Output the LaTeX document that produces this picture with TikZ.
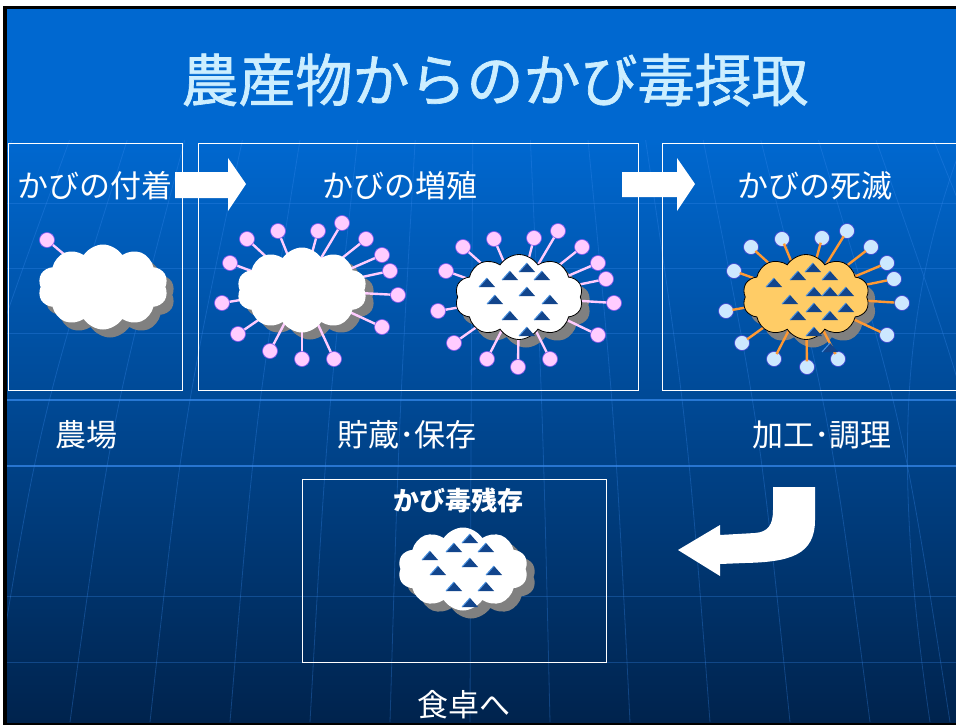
\documentclass[tikz,border=0pt]{standalone}
\usepackage{fontspec}
\newfontfamily\jp{Noto Sans CJK JP}
\newfontfamily\jptitle[FakeBold=1.2]{Noto Sans CJK JP}
\usetikzlibrary{shapes.symbols, calc}

\definecolor{slidetop}{HTML}{0068D0}
\definecolor{slidemid}{HTML}{004E9F}
\definecolor{slidebot}{HTML}{00234D}
\definecolor{gridblue}{HTML}{3A8CF0}
\definecolor{titlecyan}{HTML}{CCEEFF}
\definecolor{shadowgray}{HTML}{808080}
\definecolor{sporepink}{HTML}{FFCCFF}
\definecolor{sporerim}{HTML}{8855EE}
\definecolor{deadspore}{HTML}{CCE8FF}
\definecolor{deadrim}{HTML}{4040D0}
\definecolor{deadstalk}{HTML}{FF9933}
\definecolor{heated}{HTML}{FFCC66}
\definecolor{toxinblue}{HTML}{12458C}
\definecolor{toxinedge}{HTML}{4C92E0}

\tikzset{
  mold/.style={cloud, cloud puffs=10, cloud puff arc=115, cloud ignores aspect,
    minimum width=130, minimum height=85, inner sep=0pt, fill=white},
  moldshadow/.style={mold, fill=shadowgray},
  stagebox/.style={draw=white, line width=.8pt},
  gridline/.style={draw=gridblue, line width=.8pt, opacity=.3},
  pinkstalk/.style={draw=sporepink, line width=2.4pt},
  pinkspore/.style={fill=sporepink, draw=sporerim, line width=.6pt},
  deadstalkline/.style={draw=deadstalk, line width=2.4pt},
  deadsporedot/.style={fill=deadspore, draw=deadrim, line width=.6pt},
  stagelabel/.style={text=white, font=\jp\fontsize{31}{34}\selectfont, inner sep=0pt},
  toxin/.pic={
    \fill[toxinblue] (-8,4) -- (0,-5) -- (8,4) -- cycle;
    \draw[toxinedge, line width=1pt] (-8,4) -- (0,-5);
  },
}

\begin{document}
\begin{tikzpicture}[x=1pt, y=-1pt]
\useasboundingbox (0,0) rectangle (956,725);
\fill[white] (0,0) rectangle (956,725);
\fill[black] (3,6) rectangle (956,725);

% slide background
\begin{scope}
  \clip (7,9) rectangle (956,722);
  \fill[slidetop] (7,9) rectangle (956,140);
  \shade[top color=slidetop, middle color=slidemid, bottom color=slidebot]
    (7,140) rectangle (956,722);
  \foreach \h in {203,268,333,596,662}
    \draw[gridline] (7,\h) -- (956,\h);
  \foreach \h in {400,466}
    \draw[gridline, opacity=.7, line width=1.4pt] (7,\h) -- (956,\h);
  \foreach \b in {-170,-90,...,1130}
    \draw[gridline] ({480+(\b-480)*0.72},140) .. controls ({480+(\b-480)*0.9},420) .. (\b,722);
  \draw[gridline] (960,150) .. controls (905,300) and (890,450) .. (930,722);
\end{scope}

% title
\node[text=titlecyan, font=\jptitle\fontsize{57}{60}\selectfont, inner sep=0pt] (title) at (495,80)
  {農産物からのかび毒摂取};

% stage frames
\draw[stagebox] (8,143) rectangle (182,390);
\draw[stagebox] (198,143) rectangle (638,390);
\draw[stagebox] (662,143) rectangle (960,390);
\draw[stagebox] (302,479) rectangle (606,662);

% stage headings
\node[stagelabel] (attach) at (95,186) {かびの付着};
\node[stagelabel] (grow) at (400,186) {かびの増殖};
\node[stagelabel] (kill) at (815,186) {かびの死滅};
\node[stagelabel] (farm) at (86,435) {農場};
\node[stagelabel] (store) at (407,435) {貯蔵･保存};
\node[stagelabel] (cook) at (822,435) {加工･調理};
\node[stagelabel] (table) at (464,705) {食卓へ};
\node[text=white, font=\jp\bfseries\fontsize{26}{28}\selectfont, inner sep=0pt] (residue)
  at (458,500) {かび毒残存};

% block arrows
\fill[white] (175,172) -- (228,172) -- (228,158) -- (246,184) -- (228,211) -- (228,198) -- (175,198) -- cycle;
\fill[white] (622,172) -- (677,172) -- (677,158) -- (695,184) -- (677,211) -- (677,197) -- (622,197) -- cycle;
\fill[white] (773,487) -- (815,487) -- (815,520) .. controls (815,555) and (790,562) .. (745,563)
  -- (720,564) -- (720,576) -- (678,550) -- (720,525) -- (720,535) -- (755,533)
  .. controls (768,532) and (773,525) .. (773,510) -- cycle;

% farm: a single spore
\node[moldshadow] at (110,295) {};
\draw[pinkstalk] (103,287) -- (47,240);
\draw[pinkspore] (47,240) circle (7.5);
\node[mold] (farmmold) at (103,287) {};

% storage: spores spreading
\node[moldshadow] at (310,297) {};
\foreach \x/\y in {247/239,278/231,318/231,342/223,366/239,382/255,390/271,398/295,
                   382/327,334/359,302/359,270/351,238/334,222/303,230/263} {
  \draw[pinkstalk] (302,290) -- (\x,\y);
  \draw[pinkspore] (\x,\y) circle (7.5);
}
\node[mold] (growmold) at (302,290) {};

% storage: spores with toxin
\node[moldshadow] at (526,305) {};
\foreach \x/\y in {463/247,494/239,534/238,558/231,582/247,598/263,606/279,614/303,
                   598/335,550/359,518/367,487/359,454/343,438/311,446/271} {
  \draw[pinkstalk] (519,297) -- (\x,\y);
  \draw[pinkspore] (\x,\y) circle (7.5);
}
\node[mold, draw=black, line width=.8pt, minimum width=128] (toxinmold) at (519,297) {};
\foreach \x/\y in {527/268,510/276,542/276,487/283,527/292,495/300,550/300,510/316,542/316,527/332}
  \pic at (\x,\y) {toxin};

% processing: dead spores, toxin remains
\node[moldshadow, minimum width=127] at (813,305) {};
\foreach \x/\y in {751/247,782/239,822/238,847/231,871/247,887/263,894/279,902/303,
                   887/335,838/359,807/367,774/359,742/343,726/311,734/271} {
  \draw[deadsporedot] (\x,\y) circle (7.5);
  \draw[deadstalkline] (806,297) -- ($(\x,\y)!0.08!(806,297)$);
}
\node[mold, fill=heated, draw=black, line width=.8pt, minimum width=127] (deadmold) at (806,297) {};
\foreach \x/\y in {813/268,798/276,830/276,774/283,814/292,830/292,846/292,790/300,
                   814/308,846/308,798/316,830/316,814/332,830/348}
  \pic at (\x,\y) {toxin};

% table: toxin left over
\node[moldshadow, minimum height=83] at (471,577) {};
\node[mold, minimum height=83] (leftmold) at (463,569) {};
\foreach \x/\y in {470/539,454/548,486/548,430/556,470/563,438/571,494/571,454/587,486/587,470/603}
  \pic at (\x,\y) {toxin};
\end{tikzpicture}
\end{document}
